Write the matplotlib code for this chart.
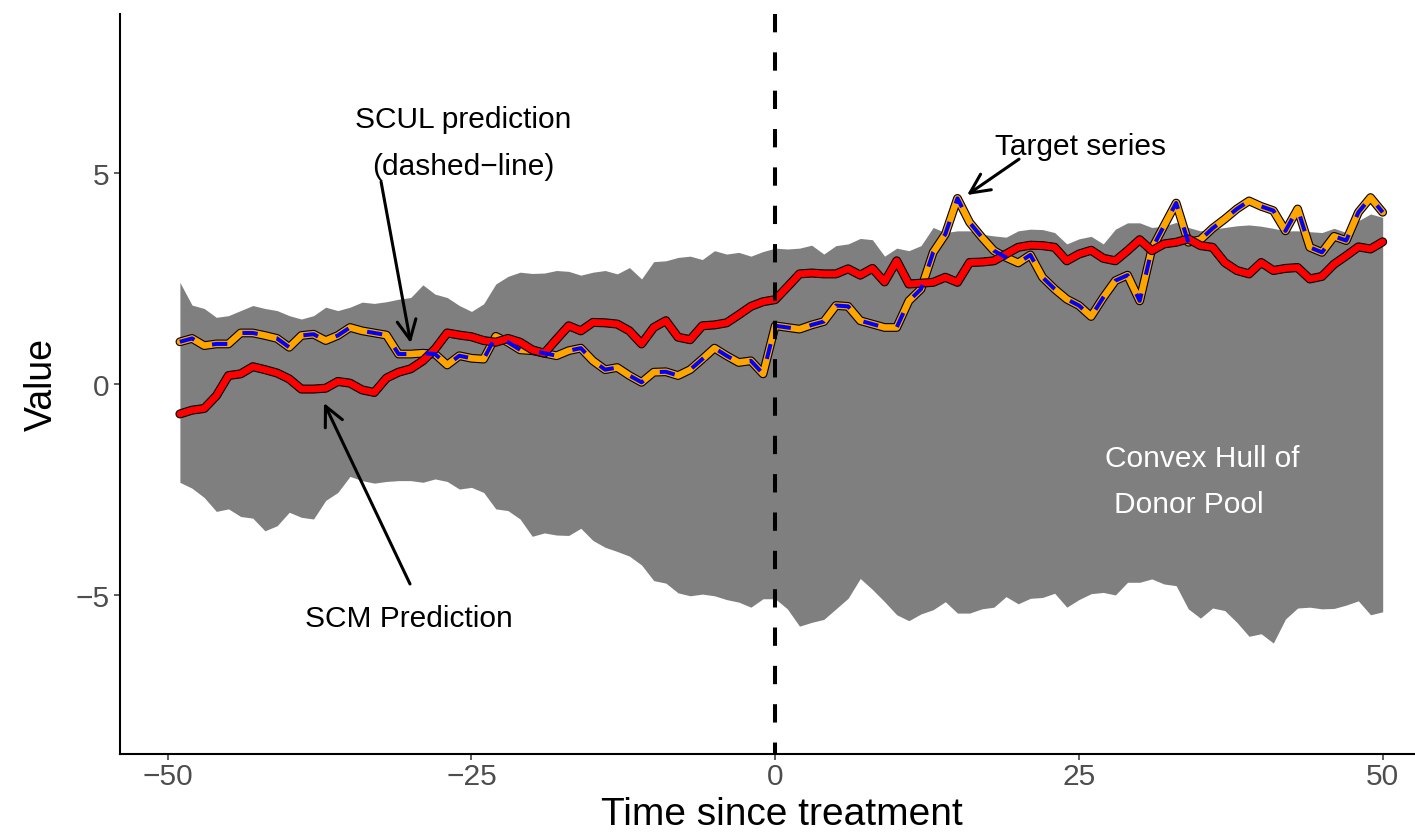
import matplotlib
matplotlib.use("Agg")
import matplotlib.pyplot as plt
import matplotlib.patheffects as pe

# ---- data -------------------------------------------------------------
time = list(range(-49, 51))

hull_upper = [
    2.41, 1.87, 1.79, 1.58, 1.62, 1.74, 1.86, 1.79, 1.74, 1.62,
    1.54, 1.62, 1.82, 1.74, 1.82, 1.94, 1.91, 1.95, 2.01, 2.05,
    2.35, 2.13, 2.05, 1.86, 1.72, 1.90, 2.37, 2.55, 2.65, 2.62,
    2.63, 2.69, 2.67, 2.58, 2.65, 2.69, 2.61, 2.76, 2.49, 2.90,
    2.92, 3.00, 3.03, 2.95, 3.16, 3.08, 3.12, 3.03, 3.14, 3.22,
    3.20, 3.22, 3.29, 3.08, 3.28, 3.32, 3.45, 3.42, 3.03, 3.22,
    3.16, 3.28, 3.71, 3.59, 3.63, 3.63, 3.55, 3.51, 3.48, 3.63,
    3.67, 3.66, 3.59, 3.32, 3.44, 3.50, 3.32, 3.67, 3.82, 3.82,
    3.71, 3.74, 3.83, 3.71, 3.63, 3.67, 3.71, 3.75, 3.77, 3.74,
    3.69, 3.63, 3.63, 3.61, 3.59, 3.69, 3.59, 3.87, 4.03, 3.95,
]

hull_lower = [
    -2.33, -2.47, -2.69, -3.02, -2.96, -3.14, -3.18, -3.48, -3.36, -3.04,
    -3.16, -3.20, -2.76, -2.57, -2.19, -2.29, -2.35, -2.31, -2.29, -2.29,
    -2.33, -2.25, -2.31, -2.49, -2.45, -2.57, -2.96, -3.00, -3.20, -3.61,
    -3.53, -3.58, -3.59, -3.42, -3.71, -3.87, -3.97, -4.08, -4.29, -4.66,
    -4.72, -4.95, -5.02, -4.98, -5.02, -5.11, -5.17, -5.29, -5.09, -5.09,
    -5.33, -5.74, -5.65, -5.58, -5.33, -5.08, -4.61, -4.87, -5.16, -5.47,
    -5.61, -5.45, -5.35, -5.16, -5.43, -5.43, -5.33, -5.29, -5.04, -5.21,
    -5.08, -5.06, -4.96, -5.29, -5.11, -4.97, -4.94, -5.00, -4.70, -4.70,
    -4.62, -4.74, -4.78, -5.33, -5.55, -5.31, -5.37, -5.65, -5.98, -5.92,
    -6.14, -5.57, -5.31, -5.29, -5.33, -5.32, -5.24, -5.14, -5.47, -5.40,
]

target_series = [
    1.00, 1.08, 0.91, 0.95, 0.95, 1.21, 1.21, 1.15, 1.08, 0.87,
    1.15, 1.18, 1.03, 1.15, 1.34, 1.26, 1.21, 1.16, 0.71, 0.71,
    0.73, 0.71, 0.45, 0.67, 0.61, 0.59, 1.13, 0.99, 0.81, 0.79,
    0.73, 0.67, 0.79, 0.85, 0.55, 0.34, 0.39, 0.20, 0.04, 0.28,
    0.29, 0.20, 0.34, 0.59, 0.85, 0.67, 0.51, 0.55, 0.24, 1.38,
    1.34, 1.30, 1.40, 1.48, 1.86, 1.84, 1.50, 1.42, 1.34, 1.34,
    1.97, 2.25, 3.12, 3.55, 4.40, 3.83, 3.48, 3.16, 3.00, 2.87,
    3.06, 2.53, 2.25, 2.01, 1.86, 1.60, 2.05, 2.45, 2.58, 1.97,
    3.20, 3.75, 4.29, 3.36, 3.42, 3.69, 3.91, 4.15, 4.34, 4.21,
    4.11, 3.63, 4.15, 3.24, 3.12, 3.50, 3.40, 4.07, 4.42, 4.07,
]

scul_prediction = [
    1.00, 1.08, 0.91, 0.95, 0.95, 1.21, 1.21, 1.15, 1.08, 0.87,
    1.15, 1.18, 1.03, 1.15, 1.34, 1.26, 1.21, 1.16, 0.71, 0.71,
    0.73, 0.71, 0.45, 0.67, 0.61, 0.59, 1.13, 0.99, 0.81, 0.79,
    0.73, 0.67, 0.79, 0.85, 0.55, 0.34, 0.39, 0.20, 0.04, 0.28,
    0.29, 0.20, 0.34, 0.59, 0.85, 0.67, 0.51, 0.55, 0.24, 1.38,
    1.34, 1.30, 1.40, 1.48, 1.86, 1.84, 1.50, 1.42, 1.34, 1.34,
    1.97, 2.25, 3.12, 3.55, 4.40, 3.83, 3.48, 3.16, 3.00, 2.87,
    3.06, 2.53, 2.25, 2.01, 1.86, 1.60, 2.05, 2.45, 2.58, 1.97,
    3.20, 3.75, 4.29, 3.36, 3.42, 3.69, 3.91, 4.15, 4.34, 4.21,
    4.11, 3.63, 4.15, 3.24, 3.12, 3.50, 3.40, 4.07, 4.42, 4.07,
]

scm_prediction = [
    -0.71, -0.62, -0.58, -0.28, 0.20, 0.24, 0.41, 0.34, 0.26, 0.12,
    -0.12, -0.12, -0.10, 0.06, 0.02, -0.14, -0.20, 0.14, 0.28, 0.36,
    0.55, 0.83, 1.21, 1.16, 1.12, 1.03, 0.99, 1.08, 0.99, 0.81,
    0.73, 1.06, 1.38, 1.26, 1.46, 1.45, 1.42, 1.26, 0.95, 1.34,
    1.50, 1.11, 1.05, 1.38, 1.40, 1.45, 1.64, 1.84, 1.95, 2.00,
    2.30, 2.61, 2.63, 2.61, 2.61, 2.73, 2.58, 2.74, 2.42, 2.92,
    2.37, 2.39, 2.41, 2.53, 2.41, 2.88, 2.89, 2.92, 3.08, 3.24,
    3.29, 3.28, 3.24, 2.92, 3.08, 3.17, 2.98, 2.92, 3.16, 3.42,
    3.16, 3.32, 3.36, 3.44, 3.28, 3.24, 2.88, 2.69, 2.61, 2.88,
    2.69, 2.74, 2.76, 2.49, 2.55, 2.84, 3.04, 3.25, 3.20, 3.37,
]

x_ticks = [-50, -25, 0, 25, 50]
y_ticks = [-5, 0, 5]
x_title = "Time since treatment"
y_title = "Value"

# ---- figure -----------------------------------------------------------
plt.rcParams["font.family"] = ["Liberation Sans", "DejaVu Sans"]

W, H = 1415, 837
fig = plt.figure(figsize=(W / 100, H / 100), dpi=100)
ax = fig.add_axes([120 / W, 82 / H, 1295 / W, 740 / H])

x_lo, x_hi = -53.93, 52.66
y_lo, y_hi = -8.77, 8.77
ax.set_xlim(x_lo, x_hi)
ax.set_ylim(y_lo, y_hi)

# donor pool envelope
ax.fill_between(time, hull_lower, hull_upper, color="#7F7F7F",
                linewidth=0, zorder=1)


def outlined(width):
    return [pe.Stroke(linewidth=width, foreground="black"), pe.Normal()]


ax.plot(time, target_series, color="#FFA500", lw=4.7,
        solid_joinstyle="round", solid_capstyle="round",
        path_effects=outlined(6.3), zorder=3)
ax.plot(time, scm_prediction, color="#FF0000", lw=4.9,
        solid_joinstyle="round", solid_capstyle="round",
        path_effects=outlined(6.5), zorder=4)
ax.plot(time, scul_prediction, color="#0000FF", lw=2.9,
        dashes=(3.8, 4.8), dash_capstyle="butt", zorder=5)

# treatment date
ax.plot([0, 0], [y_hi, y_lo], color="black", lw=2.9,
        dashes=(4.55, 4.97), dash_capstyle="butt", zorder=6)

# ---- axes styling -----------------------------------------------------
for side in ("top", "right"):
    ax.spines[side].set_visible(False)
for side in ("left", "bottom"):
    ax.spines[side].set_linewidth(1.5)
    ax.spines[side].set_color("black")

ax.set_xticks(x_ticks)
ax.set_yticks(y_ticks)
ax.tick_params(axis="both", length=4, width=1.1, color="#333333",
               labelcolor="#4D4D4D", labelsize=21.5)
ax.tick_params(axis="x", pad=2.0)
ax.tick_params(axis="y", pad=3.5)

ax.set_xlabel(x_title, fontsize=28, color="black")
ax.set_ylabel(y_title, fontsize=27, color="black")
ax.xaxis.set_label_coords((782 - 120) / 1295, -60 / 740)
ax.xaxis.label.set_va("center")
ax.yaxis.set_label_coords((42 - 120) / 1295, 0.5)
ax.yaxis.label.set_va("center")

# ---- annotations ------------------------------------------------------
arrow = dict(arrowstyle="->,head_length=0.7,head_width=0.34",
             lw=2.2, color="black", shrinkA=0, shrinkB=0,
             mutation_scale=20)
note_size = 21.5

ax.text(-25.67, 6.09, "SCUL prediction", ha="center", va="baseline",
        fontsize=note_size, color="black", zorder=7)
ax.text(-25.67, 4.98, "(dashed\u2212line)", ha="center", va="baseline",
        fontsize=note_size, color="black", zorder=7)
ax.annotate("", xy=(-30.0, 0.97), xytext=(-32.44, 4.79),
            arrowprops=arrow, zorder=7)

ax.text(25.15, 5.45, "Target series", ha="center", va="baseline",
        fontsize=note_size, color="black", zorder=7)
ax.annotate("", xy=(15.79, 4.48), xytext=(20.07, 5.33),
            arrowprops=arrow, zorder=7)

ax.text(-30.14, -5.73, "SCM Prediction", ha="center", va="baseline",
        fontsize=note_size, color="black", zorder=7)
ax.annotate("", xy=(-37.14, -0.45), xytext=(-30.06, -4.74),
            arrowprops=arrow, zorder=7)

ax.text(35.17, -1.94, "Convex Hull of", ha="center", va="baseline",
        fontsize=note_size, color="white", zorder=7)
ax.text(34.06, -3.03, "Donor Pool", ha="center", va="baseline",
        fontsize=note_size, color="white", zorder=7)

fig.savefig("out.png", dpi=100)
